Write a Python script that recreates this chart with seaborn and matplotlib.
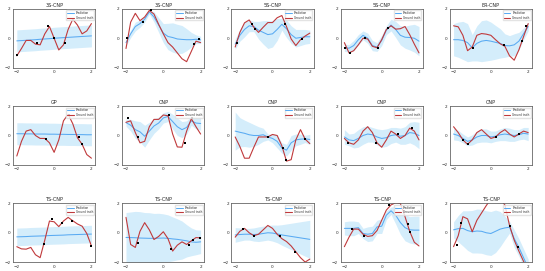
import numpy as np
import pandas as pd
import matplotlib
matplotlib.use("Agg")
import matplotlib.pyplot as plt
import seaborn as sns

# shared x grid for all panels
xs = [-2.0, -1.75, -1.5, -1.25, -1.0, -0.75, -0.5, -0.25, 0.0,
      0.25, 0.5, 0.75, 1.0, 1.25, 1.5, 1.75, 2.0]

titles = ["3S-CNP", "3S-CNP", "5S-CNP", "5S-CNP", "ER-CNP",
          "GP", "CNP", "CNP", "CNP", "CNP",
          "TS-CNP", "TS-CNP", "TS-CNP", "TS-CNP", "TS-CNP"]

# ground truth functions
truth = [
    [-1.2, -0.7, -0.15, -0.15, -0.4, -0.45, 0.3, 0.8, 0.0, -0.8, -0.45, 0.6, 1.3, 0.9, 0.3, 0.5, 1.0],
    [-0.7, 1.1, 1.7, 1.2, 1.45, 1.9, 1.65, 0.95, 0.3, -0.3, -0.6, -1.0, -1.4, -1.6, -0.9, -0.2, -0.3],
    [-0.6, 0.4, 1.05, 1.25, 0.75, 0.4, 0.75, 1.07, 1.07, 1.4, 1.55, 0.8, -0.05, -0.5, -0.1, 0.15, 0.35],
    [-0.3, -1.0, -0.85, -0.45, 0.0, -0.05, -0.55, -0.65, -0.1, 0.6, 0.85, 0.62, 0.65, 0.8, 0.25, -0.4, -1.0],
    [0.85, 0.78, 0.2, -0.85, -0.6, 0.2, 0.32, 0.28, 0.2, -0.1, -0.38, -0.55, -1.2, -1.5, -0.8, 0.1, 1.0],
    [-1.4, -0.4, 0.3, 0.4, 0.0, -0.2, -0.2, -0.5, -1.15, -0.3, 1.0, 1.45, 0.8, -0.15, -0.6, -1.3, -1.55],
    [0.9, 1.0, 0.2, -0.5, -0.4, 0.6, 1.1, 1.1, 1.4, 1.35, 0.1, -0.78, -0.8, 0.3, 1.15, 0.6, 0.1],
    [-0.1, -0.75, -1.55, -1.55, -0.8, -0.1, -0.1, -0.1, 0.07, 0.0, -0.7, -1.75, -1.65, -0.3, 0.4, -0.25, -0.55],
    [-0.2, -0.5, -0.6, -0.3, 0.3, 0.6, 0.2, -0.5, -0.8, -0.3, 0.3, 0.1, -0.2, 0.0, 0.5, 0.3, -0.3],
    [0.6, 0.2, -0.3, -0.6, -0.3, 0.2, 0.4, 0.1, -0.2, -0.1, 0.2, 0.4, 0.1, -0.1, 0.1, 0.3, 0.2],
    [-0.95, -1.1, -1.12, -1.0, -1.5, -1.7, -0.5, 0.8, 0.75, 0.42, 0.8, 1.05, 0.82, 0.6, 0.45, -0.05, -0.9],
    [1.05, -0.8, -1.0, 0.1, 0.69, 0.2, -0.46, -0.25, 0.07, -0.4, -1.25, -0.85, -0.62, -0.8, -0.55, -0.33, -0.35],
    [-0.3, 0.1, 0.3, 0.0, -0.2, -0.1, 0.2, 0.5, 0.3, -0.1, -0.4, -0.6, -0.9, -1.3, -1.7, -2.0, -1.8],
    [-0.95, -0.3, 0.25, 0.25, -0.1, -0.25, -0.2, 0.15, 0.85, 1.55, 1.9, 2.05, 2.0, 1.1, 0.1, -0.65, -0.9],
    [-0.95, -0.2, 1.1, 0.95, 0.07, 0.85, 1.35, 1.85, 2.3, 2.5, 2.3, 1.9, 0.5, -0.5, -1.25, -1.95, -2.5],
]

# predicted mean
mean = [
    [-0.18, -0.16, -0.14, -0.12, -0.1, -0.07, -0.05, -0.03, 0.0, 0.02, 0.04, 0.06, 0.08, 0.1, 0.12, 0.14, 0.16],
    [-0.3, 0.3, 0.8, 1.0, 1.3, 1.8, 1.45, 0.9, 0.35, 0.12, 0.05, -0.05, -0.08, -0.1, -0.1, -0.07, -0.11],
    [-0.4, 0.2, 0.6, 0.85, 0.8, 0.55, 0.4, 0.25, 0.3, 0.6, 0.95, 0.65, 0.25, 0.0, 0.05, 0.1, 0.1],
    [-0.65, -0.68, -0.5, -0.1, 0.2, 0.0, -0.5, -0.6, -0.15, 0.55, 0.9, 0.6, 0.2, 0.07, 0.05, 0.0, -0.2],
    [-0.1, -0.1, -0.15, -0.3, -0.65, -0.35, -0.2, -0.15, -0.2, -0.28, -0.35, -0.5, -0.52, -0.45, -0.2, 0.3, 0.8],
    [0.12, 0.12, 0.11, 0.11, 0.1, 0.1, 0.1, 0.09, 0.09, 0.08, 0.08, 0.07, 0.07, 0.06, 0.06, 0.05, 0.05],
    [0.88, 0.7, 0.4, 0.25, -0.05, 0.3, 0.65, 0.85, 1.2, 1.3, 0.95, 0.6, 0.4, 0.55, 1.0, 0.85, 0.82],
    [0.3, 0.22, 0.15, 0.05, 0.0, 0.0, 0.05, -0.1, -0.2, -0.4, -0.85, -1.0, -0.5, -0.3, -0.25, -0.23, -0.27],
    [-0.1, -0.3, -0.35, -0.2, 0.0, 0.1, 0.05, -0.1, -0.2, -0.15, 0.0, 0.05, -0.05, 0.0, 0.2, 0.15, 0.0],
    [0.1, 0.0, -0.2, -0.4, -0.3, -0.1, 0.0, 0.0, -0.1, -0.05, 0.05, 0.1, 0.05, 0.0, 0.05, 0.15, 0.1],
    [-0.28, -0.27, -0.26, -0.24, -0.23, -0.22, -0.21, -0.19, -0.18, -0.17, -0.16, -0.14, -0.13, -0.12, -0.11, -0.1, -0.09],
    [-0.32, -0.33, -0.34, -0.36, -0.37, -0.38, -0.38, -0.37, -0.36, -0.38, -0.42, -0.45, -0.5, -0.55, -0.62, -0.65, -0.62],
    [-0.15, -0.12, -0.1, -0.1, -0.12, -0.1, -0.05, 0.0, -0.02, -0.08, -0.15, -0.2, -0.25, -0.3, -0.35, -0.4, -0.45],
    [0.3, 0.3, 0.3, 0.35, -0.05, -0.1, -0.05, 0.4, 0.45, 1.2, 1.5, 1.2, 0.7, 0.35, 0.2, 0.18, 0.18],
    [0.2, 0.28, 0.3, 0.15, 0.07, 0.12, 0.1, 0.0, -0.05, 0.1, 0.25, 0.33, 0.38, -0.4, -1.0, -1.7, -2.4],
]

# predicted standard deviation (half width of the band)
std = [
    [0.75] * 17,
    [0.2, 0.25, 0.3, 0.25, 0.2, 0.15, 0.35, 0.5, 0.65, 0.9, 1.0, 1.0, 0.95, 0.75, 0.5, 0.3, 0.25],
    [0.35, 0.4, 0.5, 0.4, 0.35, 0.6, 0.8, 0.95, 0.9, 0.75, 0.4, 0.6, 0.6, 0.6, 0.55, 0.5, 0.45],
    [0.25, 0.25, 0.35, 0.35, 0.3, 0.35, 0.35, 0.3, 0.35, 0.3, 0.4, 0.55, 0.65, 0.75, 0.85, 0.95, 1.0],
    [1.1, 1.2, 1.3, 1.3, 0.9, 1.2, 1.4, 1.4, 1.3, 1.15, 1.0, 0.8, 0.7, 0.75, 0.6, 0.4, 0.3],
    [0.75] * 17,
    [0.25, 0.4, 0.6, 0.7, 0.75, 0.6, 0.5, 0.4, 0.35, 0.35, 0.5, 0.6, 0.55, 0.45, 0.3, 0.4, 0.45],
    [1.3, 1.0, 0.9, 0.85, 0.75, 0.6, 0.45, 0.2, 0.3, 0.45, 0.35, 0.4, 0.5, 0.4, 0.35, 0.25, 0.35],
    [0.5, 0.4, 0.5, 0.6, 0.6, 0.55, 0.5, 0.55, 0.6, 0.6, 0.55, 0.5, 0.55, 0.6, 0.7, 0.8, 0.9],
    [0.4, 0.35, 0.3, 0.3, 0.35, 0.4, 0.45, 0.45, 0.4, 0.35, 0.4, 0.45, 0.45, 0.4, 0.35, 0.4, 0.45],
    [0.6] * 17,
    [1.7, 1.75, 1.8, 1.8, 1.75, 1.75, 1.7, 1.7, 1.65, 1.6, 1.5, 1.4, 1.3, 1.1, 0.95, 0.85, 0.8],
    [0.5, 0.45, 0.4, 0.4, 0.45, 0.5, 0.5, 0.5, 0.55, 0.6, 0.7, 0.8, 0.9, 1.0, 1.1, 1.2, 1.3],
    [0.45, 0.5, 0.5, 0.4, 0.35, 0.5, 0.5, 0.45, 0.5, 0.3, 0.25, 0.6, 0.8, 0.9, 0.9, 0.95, 0.95],
    [0.55, 0.9, 1.2, 1.35, 1.45, 1.5, 1.5, 1.5, 1.5, 1.45, 1.2, 0.8, 0.4, 0.6, 0.6, 0.6, 0.6],
]

# context points
ctx_x = [
    [-2.0, -0.9, -0.31, 0.0, 0.56],
    [-1.93, -1.08, -0.67, 1.66, 1.9],
    [-1.9, -1.1, -0.95, 0.65, 1.56],
    [-1.98, -1.7, -0.9, -0.21, 0.32],
    [-0.94, 0.71, 1.65, 1.9],
    [-0.42, 0.79, 1.33, 1.5],
    [-1.91, -1.36, 0.3, 1.17, 1.55],
    [-0.22, 0.55, 0.73, 1.76],
    [-1.8, -0.3, 0.9, 1.6],
    [-1.5, -1.2, 0.3, 1.5],
    [-0.54, -0.09, 0.44, 0.96, 2.0],
    [-1.37, 0.39, 1.37, 1.59, 1.98],
    [-1.6, -1.0, 0.4, 1.2],
    [-1.6, -0.94, 0.41, 1.42, 1.52],
    [-1.84, -1.61, 1.0, 1.47],
]
ctx_y = [
    [-1.15, -0.3, 0.86, 0.05, -0.34],
    [0.05, 1.09, 1.93, -0.39, -0.05],
    [-0.3, 0.98, 0.61, 0.98, -0.05],
    [-0.68, -1.02, 0.0, -0.64, 0.73],
    [-0.68, -0.45, -0.16, 0.84],
    [-0.23, 1.43, -0.07, -0.59],
    [1.18, -0.07, 1.4, -0.49, 1.18],
    [-0.11, -0.84, -1.7, -0.23],
    [-0.5, -0.5, 0.1, 0.5],
    [-0.3, -0.6, -0.1, 0.1],
    [-0.79, 0.92, 0.65, 0.81, -0.92],
    [-0.69, -1.09, -0.81, -0.51, -0.35],
    [0.25, -0.2, -0.2, -1.3],
    [0.23, -0.21, 1.92, 0.58, 0.07],
    [-0.86, 0.69, 0.49, -0.97],
]

sns.set_theme(style="white")
plt.rcParams['font.family'] = ['DejaVu Sans']

fig, axes = plt.subplots(3, 5, figsize=(5.45, 2.71), dpi=100)
fig.subplots_adjust(left=0.024, right=0.976, top=0.967, bottom=0.033,
                    wspace=0.33, hspace=0.66)

x_arr = np.array(xs)
for i, ax in enumerate(axes.flat):
    m = np.array(mean[i])
    s = np.array(std[i])
    ax.fill_between(x_arr, m - s, m + s, color='#d4edfb', linewidth=0)
    df = pd.DataFrame({'x': xs, 'mean': mean[i], 'truth': truth[i]})
    sns.lineplot(data=df, x='x', y='mean', ax=ax, color='#59aaf2',
                 linewidth=0.75, label='Prediction')
    sns.lineplot(data=df, x='x', y='truth', ax=ax, color='#c0393b',
                 linewidth=0.8, label='Ground truth')
    sns.scatterplot(x=ctx_x[i], y=ctx_y[i], ax=ax, color='black', marker='s',
                    s=3.2, linewidth=0, zorder=5)
    ax.set_ylim(-2, 2)
    ax.set_xlim(-2.2, 2.2)
    ax.set_xticks([-2, 0, 2])
    ax.set_yticks([-2, 0, 2])
    ax.set_xlabel('')
    ax.set_ylabel('')
    ax.tick_params(labelsize=3, length=1, width=0.3, pad=0.8)
    ax.set_title(titles[i], fontsize=3.5, pad=1.5)
    for sp in ax.spines.values():
        sp.set_linewidth(0.6)
        sp.set_color('#666666')
    ax.legend(loc='upper right', fontsize=1.9, frameon=True, handlelength=2.5,
              borderpad=0.3, labelspacing=0.2, framealpha=0.8,
              edgecolor='#dddddd')

fig.savefig('out.png', dpi=100)
